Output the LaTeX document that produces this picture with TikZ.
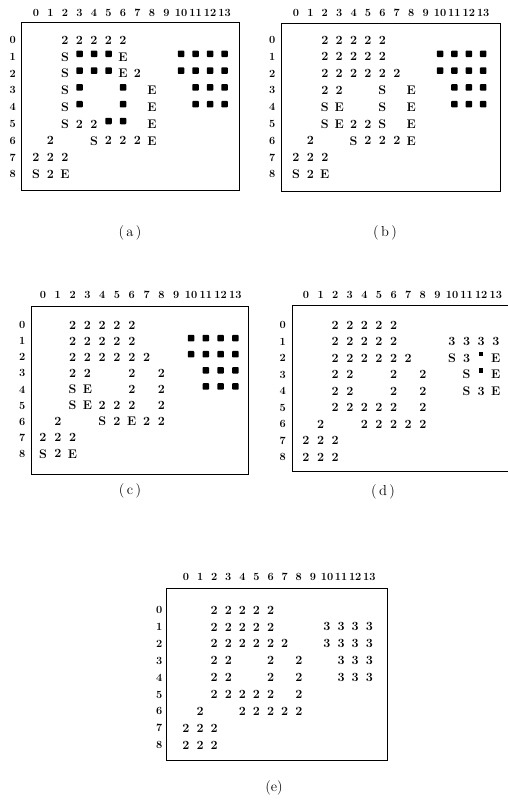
\documentclass[tikz,border=0pt]{standalone}
\usepackage{tikz}

\begin{document}
\begin{tikzpicture}[x=1pt, y=-1pt,
    cell/.style={inner sep=0pt, font=\fontsize{12.5}{12.5}\selectfont\bfseries},
    lab/.style={inner sep=0pt, font=\fontsize{11}{11}\selectfont\bfseries},
    frame/.style={draw, line width=0.9pt},
    blk/.style={fill=black, rounded corners=0.8pt, minimum size=6.5pt, inner sep=0pt, yshift=3pt},
    smallblk/.style={fill=black, minimum size=4.5pt, inner sep=0pt, yshift=4pt},
    caption/.style={font=\fontsize{14.5}{14.5}\selectfont}
]
    \useasboundingbox (0,0) rectangle (508,803);

    % Panel (a)
    \begin{scope}[shift={(36,40)}, x=14.5pt, y=-16.8pt]
        \draw[frame] (-0.97,-1.07) rectangle (14.0,8.95);
        \foreach \c in {0,...,13} \node[lab] (a-h\c) at (\c,-1.6) {\c};
        \foreach \r in {0,...,8} \node[lab] (a-v\r) at (-1.6,\r) {\r};
        \foreach \c/\r/\t in {2/0/2,3/0/2,4/0/2,5/0/2,6/0/2,
            2/1/S,6/1/E, 2/2/S,6/2/E,7/2/2, 2/3/S,8/3/E, 2/4/S,8/4/E,
            2/5/S,3/5/2,4/5/2,8/5/E, 1/6/2,4/6/S,5/6/2,6/6/2,7/6/2,8/6/E,
            0/7/2,1/7/2,2/7/2, 0/8/S,1/8/2,2/8/E}
            \node[cell] (a-\c-\r) at (\c,\r) {\t};
        \foreach \c/\r in {3/1,4/1,5/1,10/1,11/1,12/1,13/1,
            3/2,4/2,5/2,10/2,11/2,12/2,13/2,
            3/3,6/3,11/3,12/3,13/3, 3/4,6/4,11/4,12/4,13/4, 5/5,6/5}
            \node[blk] (a-b\c-\r) at (\c,\r) {};
    \end{scope}
    \node[caption] (cap-a) at (130,233) {(\,a\,)};

    % Panel (b)
    \begin{scope}[shift={(296,40)}, x=14.4pt, y=-16.8pt]
        \draw[frame] (-0.98,-1.0) rectangle (14.2,9.0);
        \foreach \c in {0,...,13} \node[lab] (b-h\c) at (\c,-1.6) {\c};
        \foreach \r in {0,...,8} \node[lab] (b-v\r) at (-1.65,\r) {\r};
        \foreach \c/\r/\t in {2/0/2,3/0/2,4/0/2,5/0/2,6/0/2,
            2/1/2,3/1/2,4/1/2,5/1/2,6/1/2,
            2/2/2,3/2/2,4/2/2,5/2/2,6/2/2,7/2/2,
            2/3/2,3/3/2,6/3/S,8/3/E, 2/4/S,3/4/E,6/4/S,8/4/E,
            2/5/S,3/5/E,4/5/2,5/5/2,6/5/S,8/5/E,
            1/6/2,4/6/S,5/6/2,6/6/2,7/6/2,8/6/E,
            0/7/2,1/7/2,2/7/2, 0/8/S,1/8/2,2/8/E}
            \node[cell] (b-\c-\r) at (\c,\r) {\t};
        \foreach \c/\r in {10/1,11/1,12/1,13/1, 10/2,11/2,12/2,13/2,
            11/3,12/3,13/3, 11/4,12/4,13/4}
            \node[blk] (b-b\c-\r) at (\c,\r) {};
    \end{scope}
    \node[caption] (cap-b) at (385,233) {(\,b\,)};

    % Panel (c)
    \begin{scope}[shift={(43,325)}, x=14.8pt, y=-16.1pt]
        \draw[frame] (-0.76,-1.18) rectangle (13.9,9.3);
        \foreach \c in {0,...,13} \node[lab] (c-h\c) at (\c,-1.85) {\c};
        \foreach \r in {0,...,8} \node[lab] (c-v\r) at (-1.4,\r) {\r};
        \foreach \c/\r/\t in {2/0/2,3/0/2,4/0/2,5/0/2,6/0/2,
            2/1/2,3/1/2,4/1/2,5/1/2,6/1/2,
            2/2/2,3/2/2,4/2/2,5/2/2,6/2/2,7/2/2,
            2/3/2,3/3/2,6/3/2,8/3/2, 2/4/S,3/4/E,6/4/2,8/4/2,
            2/5/S,3/5/E,4/5/2,5/5/2,6/5/2,8/5/2,
            1/6/2,4/6/S,5/6/2,6/6/E,7/6/2,8/6/2,
            0/7/2,1/7/2,2/7/2, 0/8/S,1/8/2,2/8/E}
            \node[cell] (c-\c-\r) at (\c,\r) {\t};
        \foreach \c/\r in {10/1,11/1,12/1,13/1, 10/2,11/2,12/2,13/2,
            11/3,12/3,13/3, 11/4,12/4,13/4}
            \node[blk] (c-b\c-\r) at (\c,\r) {};
    \end{scope}
    \node[caption] (cap-c) at (130,491) {(\,c\,)};

    % Panel (d)
    \begin{scope}[shift={(306,325)}, x=14.6pt, y=-16.5pt]
        \draw[frame] (-0.9,-1.2) rectangle (14.0,8.9);
        \foreach \c in {0,...,13} \node[lab] (d-h\c) at (\c,-1.8) {\c};
        \foreach \r in {0,...,8} \node[lab] (d-v\r) at (-1.6,\r) {\r};
        \foreach \c/\r/\t in {2/0/2,3/0/2,4/0/2,5/0/2,6/0/2,
            2/1/2,3/1/2,4/1/2,5/1/2,6/1/2,10/1/3,11/1/3,12/1/3,13/1/3,
            2/2/2,3/2/2,4/2/2,5/2/2,6/2/2,7/2/2,10/2/S,11/2/3,13/2/E,
            2/3/2,3/3/2,6/3/2,8/3/2,11/3/S,13/3/E,
            2/4/2,3/4/2,6/4/2,8/4/2,11/4/S,12/4/3,13/4/E,
            2/5/2,3/5/2,4/5/2,5/5/2,6/5/2,8/5/2,
            1/6/2,4/6/2,5/6/2,6/6/2,7/6/2,8/6/2,
            0/7/2,1/7/2,2/7/2, 0/8/2,1/8/2,2/8/2}
            \node[cell] (d-\c-\r) at (\c,\r) {\t};
        \foreach \r in {2,3}
            \node[smallblk] (d-b12-\r) at (12,\r) {};
    \end{scope}
    \node[caption] (cap-d) at (383,492) {(\,d\,)};

    % Panel (e)
    \begin{scope}[shift={(186,610)}, x=14.1pt, y=-16.9pt]
        \draw[frame] (-1.4,-1.3) rectangle (14.3,8.9);
        \foreach \c in {0,...,13} \node[lab] (e-h\c) at (\c,-1.95) {\c};
        \foreach \r in {0,...,8} \node[lab] (e-v\r) at (-1.9,\r) {\r};
        \foreach \c/\r/\t in {2/0/2,3/0/2,4/0/2,5/0/2,6/0/2,
            2/1/2,3/1/2,4/1/2,5/1/2,6/1/2,10/1/3,11/1/3,12/1/3,13/1/3,
            2/2/2,3/2/2,4/2/2,5/2/2,6/2/2,7/2/2,10/2/3,11/2/3,12/2/3,13/2/3,
            2/3/2,3/3/2,6/3/2,8/3/2,11/3/3,12/3/3,13/3/3,
            2/4/2,3/4/2,6/4/2,8/4/2,11/4/3,12/4/3,13/4/3,
            2/5/2,3/5/2,4/5/2,5/5/2,6/5/2,8/5/2,
            1/6/2,4/6/2,5/6/2,6/6/2,7/6/2,8/6/2,
            0/7/2,1/7/2,2/7/2, 0/8/2,1/8/2,2/8/2}
            \node[cell] (e-\c-\r) at (\c,\r) {\t};
    \end{scope}
    \node[caption] (cap-e) at (274,788) {(e)};
\end{tikzpicture}
\end{document}
